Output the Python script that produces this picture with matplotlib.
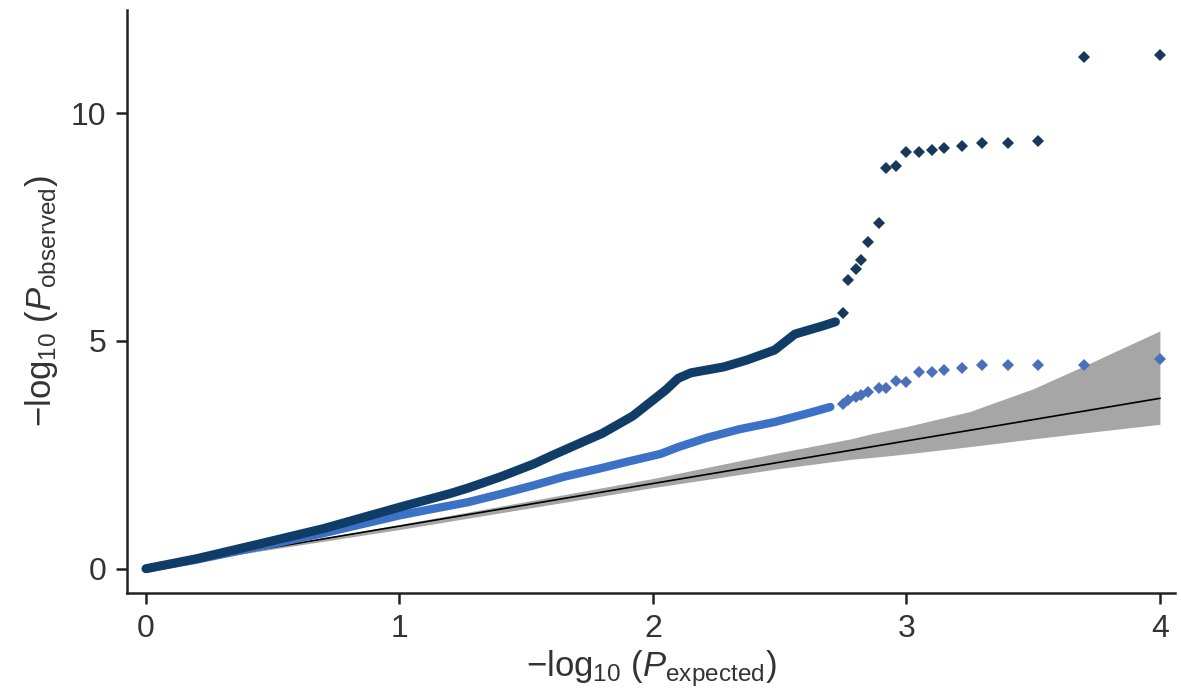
import matplotlib.pyplot as plt

plt.rcParams['font.family'] = ['Liberation Sans', 'DejaVu Sans']
plt.rcParams['mathtext.fontset'] = 'custom'
plt.rcParams['mathtext.rm'] = 'Liberation Sans'
plt.rcParams['mathtext.it'] = 'Liberation Sans:italic'

# dense part of the two QQ curves (expected vs observed, -log10 p)
dark_x = [0.0, 0.2, 0.46, 0.7, 1.0, 1.1, 1.2, 1.27, 1.4, 1.53, 1.6, 1.73, 1.8, 1.92, 2.0, 2.05,
          2.1, 2.15, 2.28, 2.37, 2.48, 2.56, 2.67, 2.72]
dark_y = [0.0, 0.22, 0.56, 0.88, 1.35, 1.50, 1.65, 1.77, 2.02, 2.30, 2.48, 2.80, 2.97, 3.35, 3.70, 3.92,
          4.18, 4.30, 4.43, 4.58, 4.80, 5.15, 5.33, 5.42]

light_x = [0.0, 0.2, 0.46, 0.7, 1.0, 1.1, 1.27, 1.4, 1.53, 1.65, 1.79, 1.9, 2.03, 2.1, 2.21, 2.34,
           2.48, 2.61, 2.70]
light_y = [0.0, 0.2, 0.5, 0.78, 1.17, 1.28, 1.46, 1.64, 1.83, 2.02, 2.20, 2.35, 2.52, 2.67, 2.87, 3.06,
           3.22, 3.41, 3.55]

# top hits, drawn as single points
tail_x = [4.0, 3.70, 3.52, 3.40, 3.30, 3.22, 3.15, 3.10, 3.05, 3.0, 2.96, 2.92, 2.89, 2.85, 2.82, 2.80, 2.77, 2.75]
dark_tail_y = [11.28, 11.24, 9.38, 9.34, 9.34, 9.27, 9.23, 9.20, 9.14, 9.14, 8.83, 8.80, 7.60, 7.18, 6.78, 6.57, 6.34, 5.62]
light_tail_y = [4.60, 4.47, 4.47, 4.47, 4.47, 4.41, 4.36, 4.32, 4.31, 4.09, 4.12, 3.97, 3.96, 3.88, 3.82, 3.77, 3.70, 3.62]

# null line and its confidence band
null_x = [0.0, 4.0]
null_y = [0.0, 3.74]
band_x = [0.0, 1.0, 2.0, 2.5, 2.78, 2.86, 3.0, 3.25, 3.5, 3.7, 4.0]
band_lo = [0.0, 0.86, 1.78, 2.2, 2.40, 2.44, 2.52, 2.68, 2.85, 2.98, 3.17]
band_hi = [0.0, 0.97, 1.98, 2.55, 2.85, 2.96, 3.12, 3.45, 3.95, 4.45, 5.22]

DARK = '#103c68'
LIGHT = '#3b72c6'

fig = plt.figure(figsize=(11.81, 6.98), dpi=100)
ax = fig.add_axes([0.1075, 0.150, 0.8875, 0.836])

ax.fill_between(band_x, band_lo, band_hi, color='#a6a6a6', lw=0, zorder=1)
ax.plot(null_x, null_y, color='black', lw=1.2, zorder=2)

ax.plot(light_x, light_y, color=LIGHT, lw=6, solid_capstyle='round', zorder=3)
ax.plot(tail_x, light_tail_y, ls='none', marker='D', ms=6.5, color='#4a6fbb', mew=0, zorder=3)

ax.plot(dark_x, dark_y, color=DARK, lw=6.5, solid_capstyle='round', zorder=4)
ax.plot(tail_x, dark_tail_y, ls='none', marker='D', ms=6.5, color='#17385a', mew=0, zorder=4)

ax.set_xlim(-0.075, 4.06)
ax.set_ylim(-0.54, 12.27)
ax.set_xticks([0, 1, 2, 3, 4])
ax.set_yticks([0, 5, 10])

for side in ['top', 'right']:
    ax.spines[side].set_visible(False)
for side in ['left', 'bottom']:
    ax.spines[side].set_linewidth(1.8)
    ax.spines[side].set_color('#222222')
ax.tick_params(length=8, width=1.8, color='#222222', labelsize=23, labelcolor='#333333', pad=7)

ax.set_xlabel(r'$-\log_{10}\,(P_{\mathrm{expected}})$', fontsize=25, color='#333333', labelpad=3)
ax.set_ylabel(r'$-\log_{10}\,(P_{\mathrm{observed}})$', fontsize=25, color='#333333', labelpad=8)

fig.savefig('out.png', dpi=100)
